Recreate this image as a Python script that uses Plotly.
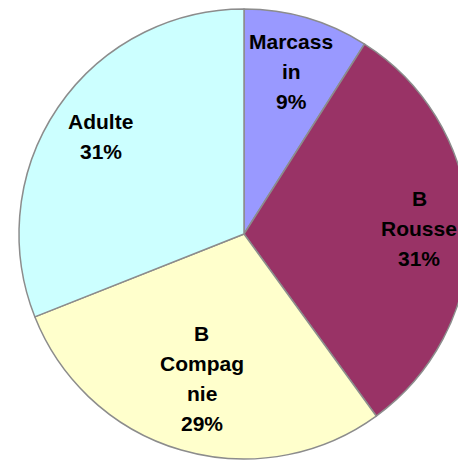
import math
import plotly.graph_objects as go

# ---- data ----
labels = ["Marcassin", "B Rousse", "B Compagnie", "Adulte"]
values = [9, 31, 29, 31]
label_text = ["Marcass<br>in", "B<br>Rousse", "B<br>Compag<br>nie", "Adulte"]
colors = ["#9999FF", "#993366", "#FFFFCC", "#CCFFFF"]

# ---- layout constants (pixels) ----
W, H = 480, 462
CX, CY, R = 244, 234, 225
label_r = [0.75, 0.78, 0.67, 0.77]
LINE_H = 30

fig = go.Figure(go.Pie(
    labels=labels,
    values=values,
    sort=False,
    direction="clockwise",
    rotation=0,
    marker=dict(colors=colors, line=dict(color="#8c8c8c", width=1.5)),
    textinfo="none",
    hoverinfo="label+percent",
    showlegend=False,
    domain=dict(x=[(CX - R) / W, (CX + R) / W], y=[(H - CY - R) / H, (H - CY + R) / H]),
))

total = sum(values)
cum = 0
annotations = []
for i, v in enumerate(values):
    mid = (cum + v / 2) / total * 2 * math.pi
    cum += v
    px = CX + label_r[i] * R * math.sin(mid)
    py = CY - label_r[i] * R * math.cos(mid)
    pct = round(v / total * 100)
    lines = label_text[i].split("<br>") + [f"{pct}%"]
    n = len(lines)
    for j, line in enumerate(lines):
        shift = ((n - 1) / 2 - j) * LINE_H
        annotations.append(dict(
            x=px / W, y=1 - py / H, xref="paper", yref="paper",
            yshift=shift,
            text=line, showarrow=False,
            xanchor="center", yanchor="middle", align="center",
            font=dict(family="Liberation Sans, Arial, sans-serif", size=21,
                      color="black", weight="bold"),
        ))

fig.update_layout(
    width=W, height=H,
    margin=dict(l=0, r=0, t=0, b=0),
    paper_bgcolor="white",
    plot_bgcolor="white",
    annotations=annotations,
    font=dict(family="Liberation Sans, Arial, sans-serif"),
)

fig.write_html(
    "out.html",
    config={"displayModeBar": False},
    post_script="document.body.style.margin='0';document.body.style.overflow='hidden';document.documentElement.style.overflow='hidden';",
)
